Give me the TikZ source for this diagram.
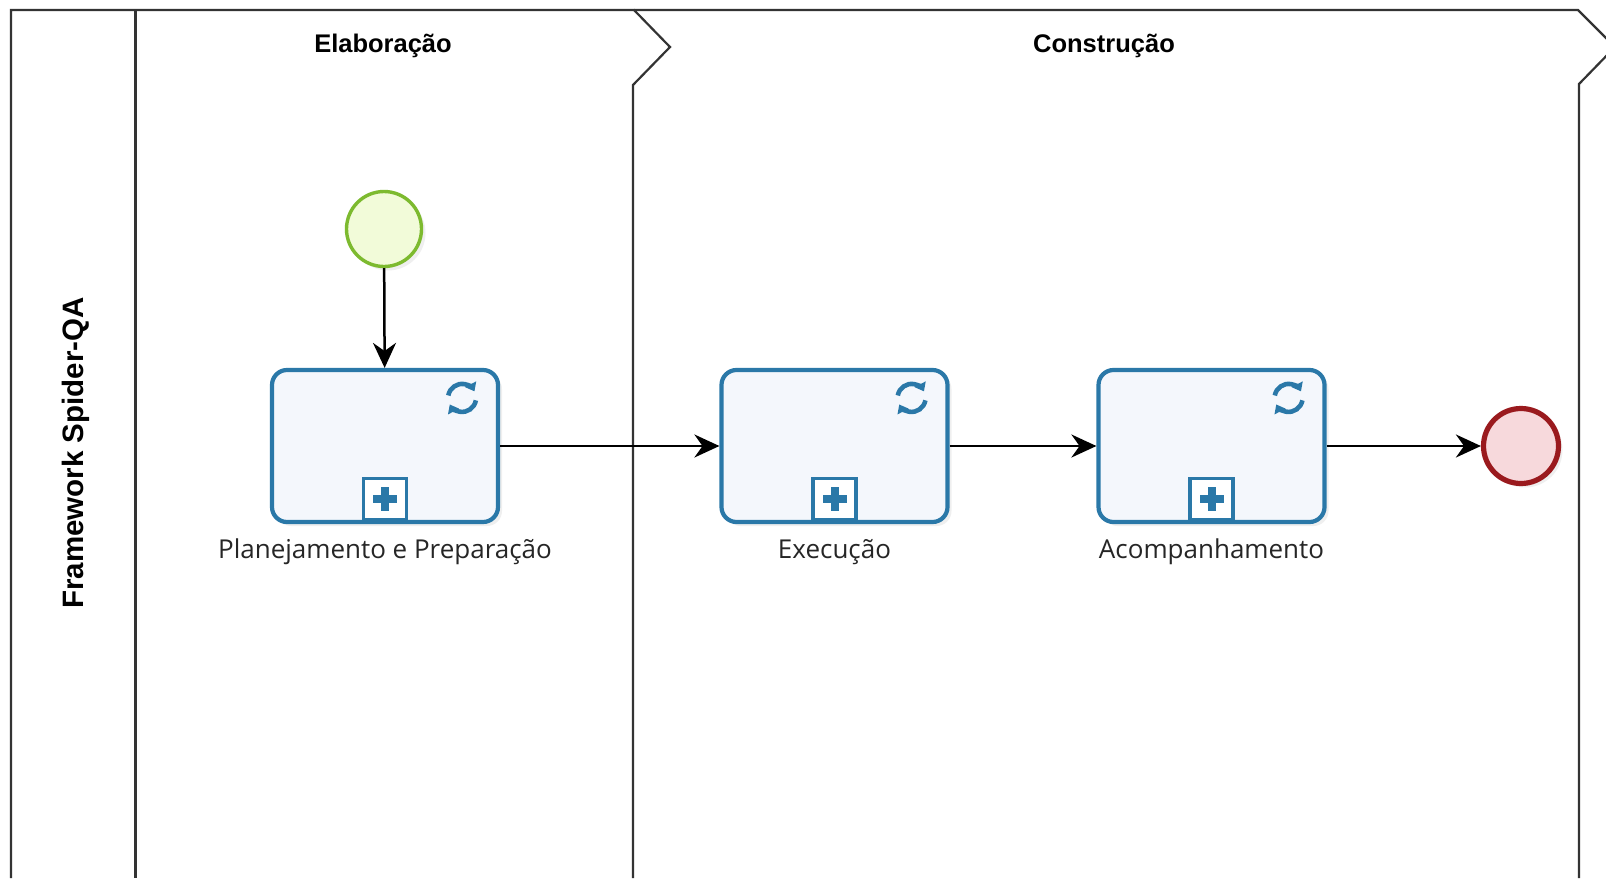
\documentclass[tikz,border=0pt]{standalone}
\usepackage{fontspec}
\setmainfont{Liberation Sans}
\newfontfamily\lblfont{Open Sans}
\usetikzlibrary{arrows.meta,shadows}
\definecolor{poolgray}{HTML}{333333}
\definecolor{taskblue}{HTML}{2A78A8}
\definecolor{taskfill}{HTML}{F4F7FC}
\definecolor{startborder}{HTML}{7DBA2F}
\definecolor{startfill}{HTML}{F2FBD9}
\definecolor{endborder}{HTML}{9A1A1E}
\definecolor{endfill}{HTML}{F7D9DC}
\begin{document}
\begin{tikzpicture}[x=1pt,y=-1pt,
  pool/.style={draw=poolgray,line width=2.2pt,line join=miter},
  task/.style={draw=taskblue,line width=4.2pt,rounded corners=15pt,
    minimum width=226pt,minimum height=152pt,fill=taskfill,
    drop shadow={opacity=0.12,shadow xshift=4pt,shadow yshift=-4pt}},
  startev/.style={circle,draw=startborder,line width=3.4pt,fill=startfill,
    minimum size=75pt,inner sep=0pt,
    drop shadow={opacity=0.12,shadow xshift=4pt,shadow yshift=-4pt}},
  endev/.style={circle,draw=endborder,line width=5.2pt,fill=endfill,
    minimum size=75pt,inner sep=0pt,
    drop shadow={opacity=0.12,shadow xshift=4pt,shadow yshift=-4pt}},
  flow/.style={draw=black,line width=2.5pt,-{Stealth[length=25pt,width=23pt]}},
  hdr/.style={font=\fontsize{25.5}{28}\selectfont\bfseries,text=black},
  pooltitle/.style={font=\fontsize{29.5}{33}\selectfont\bfseries,text=black},
  lbl/.style={font=\lblfont\fontsize{26}{29}\selectfont,text=black!85},
  marker/.style={draw=taskblue,line width=3.2pt,fill=white},
  loopmark/.style={draw=taskblue,line width=4.6pt,-{Triangle[length=8pt,width=12pt]}}
]
\useasboundingbox (0,0) rectangle (1606,878);
\fill[white] (0,0) rectangle (1606,878);
\begin{scope}
\clip (0,0) rectangle (1606,878);
% pool and lanes
\draw[pool] (11,878) -- (11,10) -- (634,10) -- (670,47) -- (633,85) -- (633,878);
\draw[pool] (634,10) -- (1578,10) -- (1615,47) -- (1579,84) -- (1579,878);
\draw[pool,line width=3pt] (135,10) -- (135,878);
\end{scope}
\node[pooltitle,rotate=90] (pt) at (76,453) {Framework Spider-QA};
\node[hdr] (h1) at (383,46) {Elaboração};
\node[hdr] (h2) at (1104,46) {Construção};
% events and tasks
\node[startev] (s) at (384,229) {};
\node[endev] (e) at (1521,446) {};
\node[task] (t1) at (385,446) {};
\node[task] (t2) at (834.5,446) {};
\node[task] (t3) at (1211.5,446) {};
\foreach \t in {t1,t2,t3}{
  % loop marker
  \begin{scope}[shift={(\t.north east)}]
    \draw[loopmark] (-38,30) ++(-170:14) arc[start angle=-170,end angle=-28,radius=14];
    \draw[loopmark] (-38,30) ++(10:14) arc[start angle=10,end angle=152,radius=14];
  \end{scope}
  % subprocess marker
  \begin{scope}[shift={(\t.south)}]
    \draw[marker] (-21.5,-5) rectangle (21.5,-46);
    \fill[taskblue] (-12,-29.5) rectangle (12,-21.5);
    \fill[taskblue] (-4,-37.5) rectangle (4,-13.5);
  \end{scope}
}
\node[lbl] (l1) at (385,552) {Planejamento e Preparação};
\node[lbl] (l2) at (834.5,552) {Execução};
\node[lbl] (l3) at (1211.5,552) {Acompanhamento};
% flows
\draw[flow] (s) -- (t1);
\draw[flow] (t1) -- (t2);
\draw[flow] (t2) -- (t3);
\draw[flow] (t3) -- (e);
\end{tikzpicture}
\end{document}
